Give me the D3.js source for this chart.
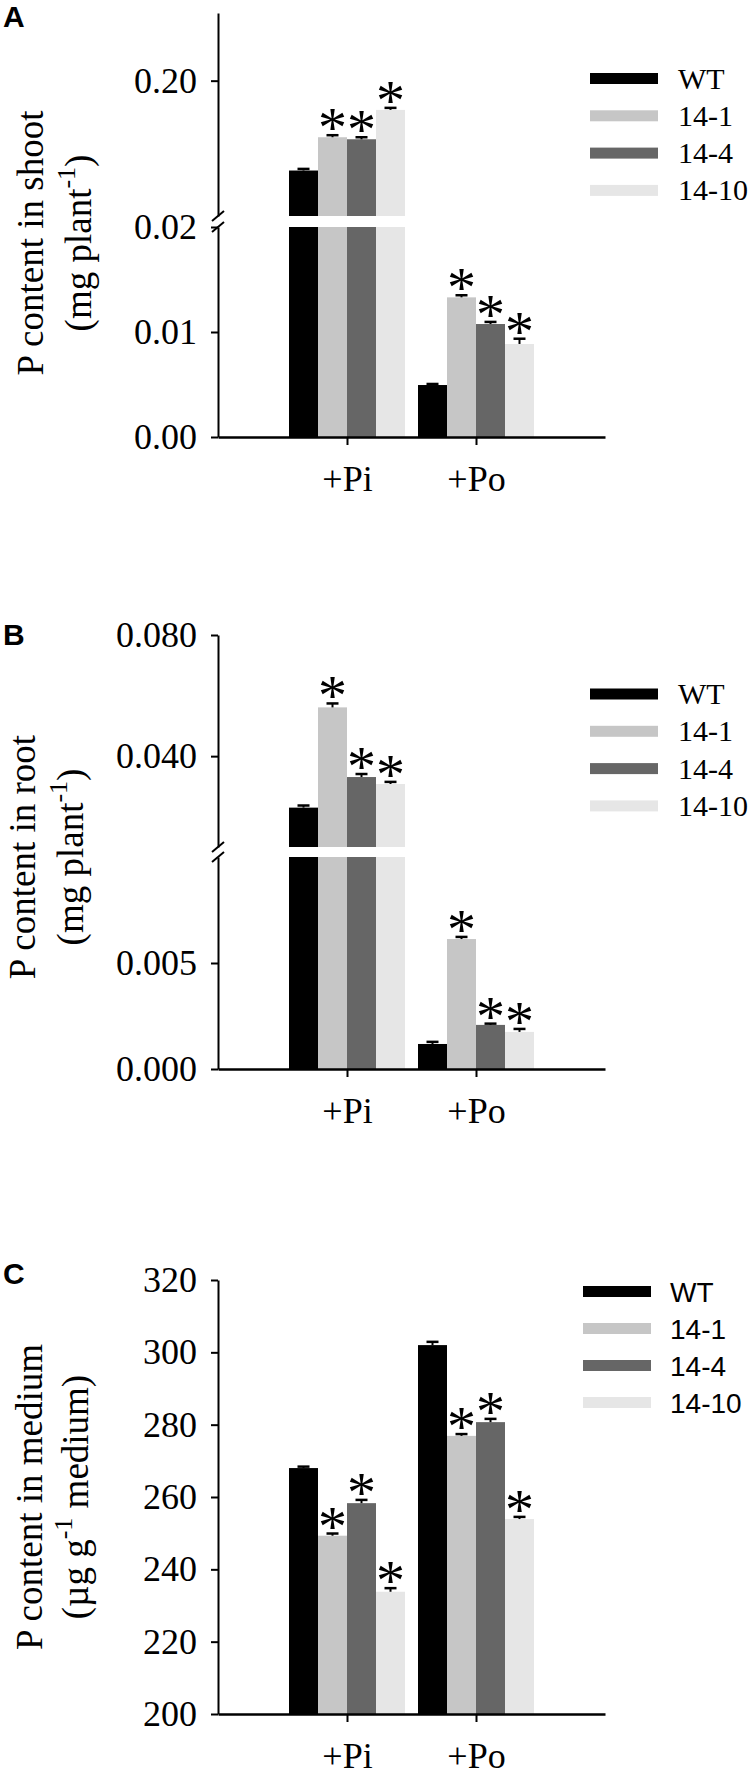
<!DOCTYPE html>
<html>
<head>
<meta charset="utf-8">
<script src="https://cdn.jsdelivr.net/npm/d3@7"></script>
<style>
  html, body { margin: 0; padding: 0; background: #fff; }
  svg { display: block; }
</style>
</head>
<body>
<script>
// ---------------- DATA ----------------
const series = ["WT", "14-1", "14-4", "14-10"];
const groups = ["+Pi", "+Po"];
const seriesColors = ["#000000", "#c6c6c6", "#666666", "#e6e6e6"];

// Panel A: P content in shoot (mg plant-1)
const shootPi    = [0.1336, 0.1582, 0.1567, 0.1784];
const shootPiErr = [0.0012, 0.0015, 0.0015, 0.0015];
const shootPo    = [0.00495, 0.0133, 0.01076, 0.00886];
const shootPoErr = [0.0001, 0.0002, 0.0002, 0.0005];
const shootSigPi = [false, true, true, true];
const shootSigPo = [false, true, true, true];
const shootTicksLow = [0, 0.01, 0.02];
const shootTicksHigh = [0.20];

// Panel B: P content in root (mg plant-1)
const rootPi    = [0.0230, 0.0561, 0.0331, 0.0308];
const rootPiErr = [0.0007, 0.0013, 0.0010, 0.0007];
const rootPo    = [0.00118, 0.00613, 0.00208, 0.00175];
const rootPoErr = [0.00010, 0.00010, 0.00006, 0.00014];
const rootSigPi = [false, true, true, true];
const rootSigPo = [false, true, true, true];
const rootTicksLow = [0, 0.005];
const rootTicksHigh = [0.040, 0.080];

// Panel C: P content in medium (ug g-1 medium)
const mediumPi    = [268.0, 249.3, 258.3, 233.8];
const mediumPiErr = [0.4, 0.6, 0.9, 1.0];
const mediumPo    = [302.0, 276.9, 280.7, 253.9];
const mediumPoErr = [0.9, 0.5, 0.9, 0.6];
const mediumSigPi = [false, true, true, true];
const mediumSigPo = [false, true, true, true];
const mediumTicks = [200, 220, 240, 260, 280, 300, 320];

// ---------------- DRAWING ----------------
const W = 750, H = 1776;
const svg = d3.select("body").append("svg").attr("width", W).attr("height", H);

const serif = "'Liberation Serif', 'Times New Roman', serif";
const sans = "'Liberation Sans', Arial, sans-serif";

const axisX = 218, axisEnd = 605;
const xGroup = d3.scalePoint().domain(groups).range([axisX, axisEnd]).padding(1);
const xSeries = d3.scaleBand().domain(series).range([-58, 58]).padding(0);

function rows(pi, piErr, sigPi, po, poErr, sigPo) {
  const out = [];
  series.forEach((s, i) => {
    out.push({g: "+Pi", s, i, v: pi[i], e: piErr[i], sig: sigPi[i]});
    out.push({g: "+Po", s, i, v: po[i], e: poErr[i], sig: sigPo[i]});
  });
  return out;
}

function drawPanel(p) {
  const g = svg.append("g");
  const data = rows(...p.data);
  const low = p.low, high = p.high;
  const baseY = low.range()[0];
  const lowMax = low.domain()[1];

  const yOf = v => (high && v > lowMax) ? high(v) : low(v);

  data.forEach(d => {
    const x = xGroup(d.g) + xSeries(d.s);
    const w = xSeries.bandwidth();
    const col = seriesColors[d.i];
    if (high && d.v > lowMax) {
      g.append("rect").attr("x", x).attr("width", w)
        .attr("y", low(lowMax)).attr("height", baseY - low(lowMax)).attr("fill", col);
      const hb = high(high.domain()[0]);
      g.append("rect").attr("x", x).attr("width", w)
        .attr("y", high(d.v)).attr("height", hb - high(d.v)).attr("fill", col);
    } else {
      g.append("rect").attr("x", x).attr("width", w)
        .attr("y", low(d.v)).attr("height", baseY - low(d.v)).attr("fill", col);
    }
    const cx = x + w / 2;
    const yTop = yOf(d.v + d.e), yV = yOf(d.v);
    g.append("line").attr("x1", cx).attr("x2", cx).attr("y1", yV).attr("y2", yTop)
      .attr("stroke", "#000").attr("stroke-width", 2);
    g.append("line").attr("x1", cx - 6).attr("x2", cx + 6).attr("y1", yTop).attr("y2", yTop)
      .attr("stroke", "#000").attr("stroke-width", 2.5);
    if (d.sig) {
      g.append("text").attr("x", cx).attr("y", yTop + 12)
        .attr("text-anchor", "middle").style("font-family", serif)
        .style("font-size", "58px").text("*");
    }
  });

  const styleAxis = sel => {
    sel.attr("font-family", null).attr("font-size", null);
    sel.selectAll("path").attr("stroke", "#000").attr("stroke-width", 2);
    sel.selectAll("line").attr("stroke", "#000").attr("stroke-width", 2);
    sel.selectAll("text").style("font-family", serif).style("font-size", "36px").attr("fill", "#000");
  };
  const axLow = d3.axisLeft(low).tickValues(p.ticksLow).tickFormat(d3.format(p.fmt))
    .tickSizeInner(7).tickSizeOuter(0).tickPadding(14);
  g.append("g").attr("transform", `translate(${axisX},0)`).call(axLow).call(styleAxis);
  if (high) {
    const axHigh = d3.axisLeft(high).tickValues(p.ticksHigh).tickFormat(d3.format(p.fmt))
      .tickSizeInner(7).tickSizeOuter(0).tickPadding(14);
    g.append("g").attr("transform", `translate(${axisX},0)`).call(axHigh).call(styleAxis);
    const yb1 = high.range()[0], yb2 = low.range()[1];
    [yb1, yb2].forEach(yy => {
      g.append("line").attr("x1", axisX - 6).attr("y1", yy + 5)
        .attr("x2", axisX + 6).attr("y2", yy - 5)
        .attr("stroke", "#000").attr("stroke-width", 2);
    });
  }

  const axB = d3.axisBottom(xGroup).tickSizeInner(8).tickSizeOuter(0).tickPadding(20);
  g.append("g").attr("transform", `translate(0,${baseY})`).call(axB).call(sel => {
    sel.attr("font-family", null).attr("font-size", null);
    sel.select("path").attr("stroke", "#000").attr("stroke-width", 2.5);
    sel.selectAll("line").attr("stroke", "#000").attr("stroke-width", 2);
    sel.selectAll("text").style("font-family", serif).style("font-size", "36px").attr("fill", "#000");
  });

  const yc = p.labelY;
  g.append("text").attr("transform", `translate(${p.label1X},${yc}) rotate(-90)`)
    .attr("text-anchor", "middle").style("font-family", serif).style("font-size", "37px").text(p.label1);
  const t2 = g.append("text").attr("transform", `translate(${p.label2X},${yc}) rotate(-90)`)
    .attr("text-anchor", "middle").style("font-family", serif).style("font-size", "37px");
  t2.append("tspan").text(p.label2a);
  t2.append("tspan").style("font-size", "26px").attr("dy", -16).text("-1");
  t2.append("tspan").attr("dy", 16).text(p.label2b);

  g.append("text").attr("x", 3).attr("y", p.letterY).style("font-family", sans)
    .style("font-weight", "bold").style("font-size", "30px").text(p.letter);

  series.forEach((s, i) => {
    const yy = p.legY + i * p.legStep;
    g.append("rect").attr("x", p.legX).attr("y", yy - 5.5).attr("width", 68).attr("height", 11)
      .attr("fill", seriesColors[i]);
    g.append("text").attr("x", p.legX + p.legGap).attr("y", yy + p.legDy)
      .style("font-family", p.legFont).style("font-size", p.legSize + "px").text(s);
  });
}

drawPanel({
  data: [shootPi, shootPiErr, shootSigPi, shootPo, shootPoErr, shootSigPo],
  low: d3.scaleLinear().domain([0, 0.02]).range([437, 227]),
  high: d3.scaleLinear().domain([0.10, 0.25]).range([216, 13]),
  ticksLow: shootTicksLow, ticksHigh: shootTicksHigh, fmt: ".2f",
  label1: "P content in shoot", label2a: "(mg plant", label2b: ")",
  label1X: 43, label2X: 91, labelY: 243,
  letter: "A", letterY: 27,
  legX: 590, legY: 78.5, legStep: 37.3, legGap: 88, legDy: 10, legFont: serif, legSize: 30
});

drawPanel({
  data: [rootPi, rootPiErr, rootSigPi, rootPo, rootPoErr, rootSigPo],
  low: d3.scaleLinear().domain([0, 0.01]).range([1069, 857]),
  high: d3.scaleLinear().domain([0.01, 0.08]).range([847, 635]),
  ticksLow: rootTicksLow, ticksHigh: rootTicksHigh, fmt: ".3f",
  label1: "P content in root", label2a: "(mg plant", label2b: ")",
  label1X: 35, label2X: 83, labelY: 857,
  letter: "B", letterY: 645,
  legX: 590, legY: 694, legStep: 37.3, legGap: 88, legDy: 10, legFont: serif, legSize: 30
});

drawPanel({
  data: [mediumPi, mediumPiErr, mediumSigPi, mediumPo, mediumPoErr, mediumSigPo],
  low: d3.scaleLinear().domain([200, 320]).range([1714, 1280]),
  high: null,
  ticksLow: mediumTicks, ticksHigh: [], fmt: "d",
  label1: "P content in medium", label2a: "(\u00b5g g", label2b: " medium)",
  label1X: 42, label2X: 88, labelY: 1497,
  letter: "C", letterY: 1284,
  legX: 583, legY: 1291.5, legStep: 37, legGap: 87, legDy: 10, legFont: sans, legSize: 28
});
</script>
</body>
</html>
